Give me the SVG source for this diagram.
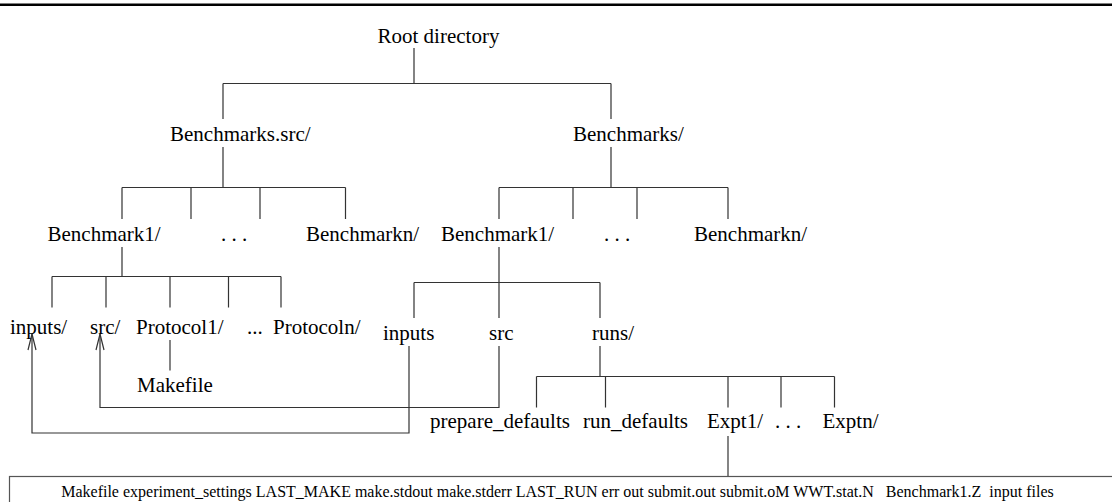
<svg xmlns="http://www.w3.org/2000/svg" width="1112" height="502" viewBox="0 0 1112 502">
<style>
text{font-family:"Liberation Serif","Times New Roman",serif;font-size:21px;fill:#000}
.small{font-size:16px}
.ln{fill:none;stroke:#333;stroke-width:1.2}
</style>
<defs>
<marker id="vhead" markerUnits="userSpaceOnUse" orient="auto" markerWidth="20" markerHeight="12" viewBox="-18 -6 20 12" refX="0" refY="0">
<path d="M-16,-4 L0,0 L-16,4" fill="none" stroke="#333" stroke-width="1.2"/>
</marker>
</defs>
<rect width="1112" height="502" fill="#fff"/>
<line x1="0" y1="4.8" x2="1112" y2="4.8" stroke="#000" stroke-width="2.4"/>
<g id="connectors" class="ln">
<path d="M414,48 V83.5 M223,83.5 H611 M223,83.5 V119 M611,83.5 V119"/>
<path d="M223,147 V187.5 M122,187.5 H345.5 M122,187.5 V219 M191,187.5 V219 M260,187.5 V219 M345.5,187.5 V219"/>
<path d="M611,147 V187.5 M499,187.5 H728 M499,187.5 V219 M573,187.5 V219 M637,187.5 V219 M728,187.5 V219"/>
<path d="M122,247 V276.5 M52,276.5 H281 M52,276.5 V307.5 M106,276.5 V307.5 M170,276.5 V307.5 M228.5,276.5 V307.5 M281,276.5 V307.5"/>
<path d="M170,340 V370.5"/>
<path d="M499,247 V318 M414,282.5 H600 M414,282.5 V318 M600,282.5 V318"/>
<path d="M600,346 V376.5 M536.5,376.5 H834.5 M536.5,376.5 V407.5 M605.5,376.5 V407.5 M728,376.5 V407.5 M781,376.5 V407.5 M834.5,376.5 V407.5"/>
<path d="M728,436 V476.5"/>
<path d="M409,346 V433 H32 V334" marker-end="url(#vhead)"/>
<path d="M499,346 V407.5 H100 V334" marker-end="url(#vhead)"/>
</g>
<g id="root"><text x="377.5" y="43">Root directory</text></g>
<g id="benchmarks-src"><text x="170" y="141">Benchmarks.src/</text></g>
<g id="benchmarks"><text x="573" y="141">Benchmarks/</text></g>
<g id="src-benchmark1"><text x="47.5" y="241">Benchmark1/</text></g>
<g id="src-dots"><text x="221" y="241">. . .</text></g>
<g id="src-benchmarkn"><text x="306" y="241">Benchmarkn/</text></g>
<g id="bm-benchmark1"><text x="441" y="241">Benchmark1/</text></g>
<g id="bm-dots"><text x="604" y="241">. . .</text></g>
<g id="bm-benchmarkn"><text x="694" y="241">Benchmarkn/</text></g>
<g id="src-inputs"><text x="10" y="334">inputs/</text></g>
<g id="src-src"><text x="90" y="334">src/</text></g>
<g id="protocol1"><text x="136" y="334">Protocol1/</text></g>
<g id="protocol-dots"><text x="247" y="334">...</text></g>
<g id="protocoln"><text x="273" y="334">Protocoln/</text></g>
<g id="makefile"><text x="137" y="391.5">Makefile</text></g>
<g id="bm-inputs"><text x="383" y="340">inputs</text></g>
<g id="bm-src"><text x="489" y="340">src</text></g>
<g id="runs"><text x="592" y="340">runs/</text></g>
<g id="prepare-defaults"><text x="430" y="428">prepare_defaults</text></g>
<g id="run-defaults"><text x="583" y="428">run_defaults</text></g>
<g id="expt1"><text x="707" y="428">Expt1/</text></g>
<g id="expt-dots"><text x="775" y="428">. . .</text></g>
<g id="exptn"><text x="822.5" y="428">Exptn/</text></g>
<g id="expt-files">
<rect x="9.5" y="476.5" width="1110" height="40" fill="none" stroke="#555" stroke-width="1.2"/>
<text class="small" x="557.5" y="497" text-anchor="middle" xml:space="preserve">Makefile experiment_settings LAST_MAKE make.stdout make.stderr LAST_RUN err out submit.out submit.oM WWT.stat.N   Benchmark1.Z  input files</text>
</g>
</svg>
